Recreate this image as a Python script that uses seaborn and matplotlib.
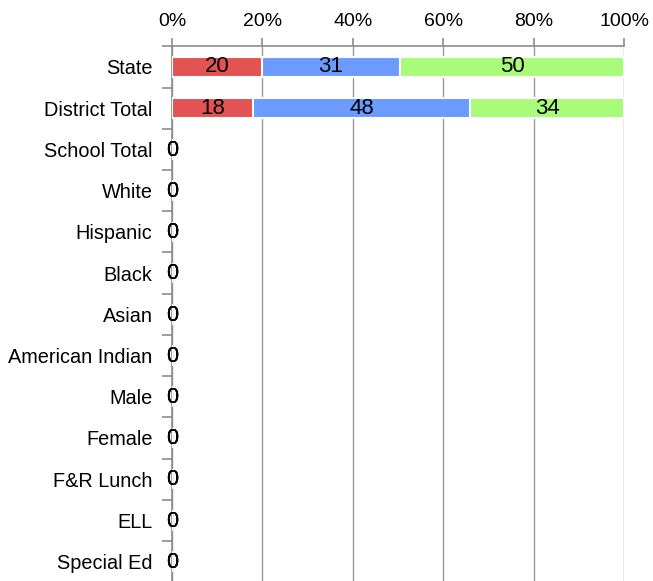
import numpy as np
import pandas as pd
import matplotlib
matplotlib.use("Agg")
import matplotlib.pyplot as plt
import seaborn as sns

categories = ["State", "District Total", "School Total", "White", "Hispanic", "Black",
              "Asian", "American Indian", "Male", "Female", "F&R Lunch", "ELL", "Special Ed"]
series_names = ["Level 1", "Level 2", "Level 3"]
level1 = [20, 18, 0, 0, 0, 0, 0, 0, 0, 0, 0, 0, 0]
level2 = [31, 48, 0, 0, 0, 0, 0, 0, 0, 0, 0, 0, 0]
level3 = [50, 34, 0, 0, 0, 0, 0, 0, 0, 0, 0, 0, 0]
x_ticks = [0, 20, 40, 60, 80, 100]
x_tick_labels = ["0%", "20%", "40%", "60%", "80%", "100%"]
colors = ["#E35353", "#6B9BFF", "#A9FC7A"]

sns.set_theme(style="white")
plt.rcParams["font.family"] = ["Liberation Sans", "DejaVu Sans"]
plt.rcParams["text.color"] = "black"
plt.rcParams["xtick.labelcolor"] = "black"
plt.rcParams["ytick.labelcolor"] = "black"

vals = np.array([level1, level2, level3], dtype=float)
tot = vals.sum(axis=0)
pct = np.where(tot > 0, vals / np.where(tot > 0, tot, 1) * 100, 0)
cum = np.cumsum(pct, axis=0)

fig = plt.figure(figsize=(6.53, 5.81), dpi=100)
ax = fig.add_axes([0.2634, -0.002, 0.6922, 0.9222])

for k in [2, 1, 0]:
    df = pd.DataFrame({"cat": categories, "val": cum[k]})
    sns.barplot(data=df, y="cat", x="val", order=categories, color=colors[k],
                saturation=1, width=0.5, edgecolor="white", linewidth=1.5,
                ax=ax, orient="h", zorder=3)

for i in range(len(categories)):
    for k in range(3):
        if tot[i] > 0:
            left = cum[k][i] - pct[k][i]
            ax.text(left + pct[k][i] / 2, i, f"{int(vals[k][i])}", ha="center",
                    va="center", fontsize=16, color="black", zorder=5)
        else:
            ax.text(0, i + 0.02, "0", ha="center", va="center", fontsize=15.5,
                    color="black", zorder=5)

ax.set_xlim(0, 100)
ax.set_ylim(len(categories) - 0.5, -0.5)
ax.set_xticks(x_ticks)
ax.set_xticklabels(x_tick_labels)
ax.xaxis.tick_top()
ax.set_xlabel("")
ax.set_ylabel("")
ax.grid(axis="x", color="#9a9a9a", linewidth=1, zorder=0)
ax.set_axisbelow(True)
for s in ["right", "bottom"]:
    ax.spines[s].set_visible(False)
for s in ["top", "left"]:
    ax.spines[s].set_color("#8c8c8c")
    ax.spines[s].set_linewidth(1.2)
ax.tick_params(axis="x", which="major", direction="out", length=6, color="#8c8c8c",
               width=1.2, labelsize=14, pad=6, top=True, bottom=False, labelcolor="black")
ax.set_yticks(range(len(categories)))
ax.set_yticklabels(categories)
ax.set_yticks(np.arange(-0.5, len(categories), 1), minor=True)
ax.tick_params(axis="y", which="major", length=0, labelsize=14.3, pad=14, labelcolor="black")
ax.tick_params(axis="y", which="minor", direction="out", length=7, color="#8c8c8c",
               width=1.2, left=True)

fig.savefig("out.png", dpi=100)
